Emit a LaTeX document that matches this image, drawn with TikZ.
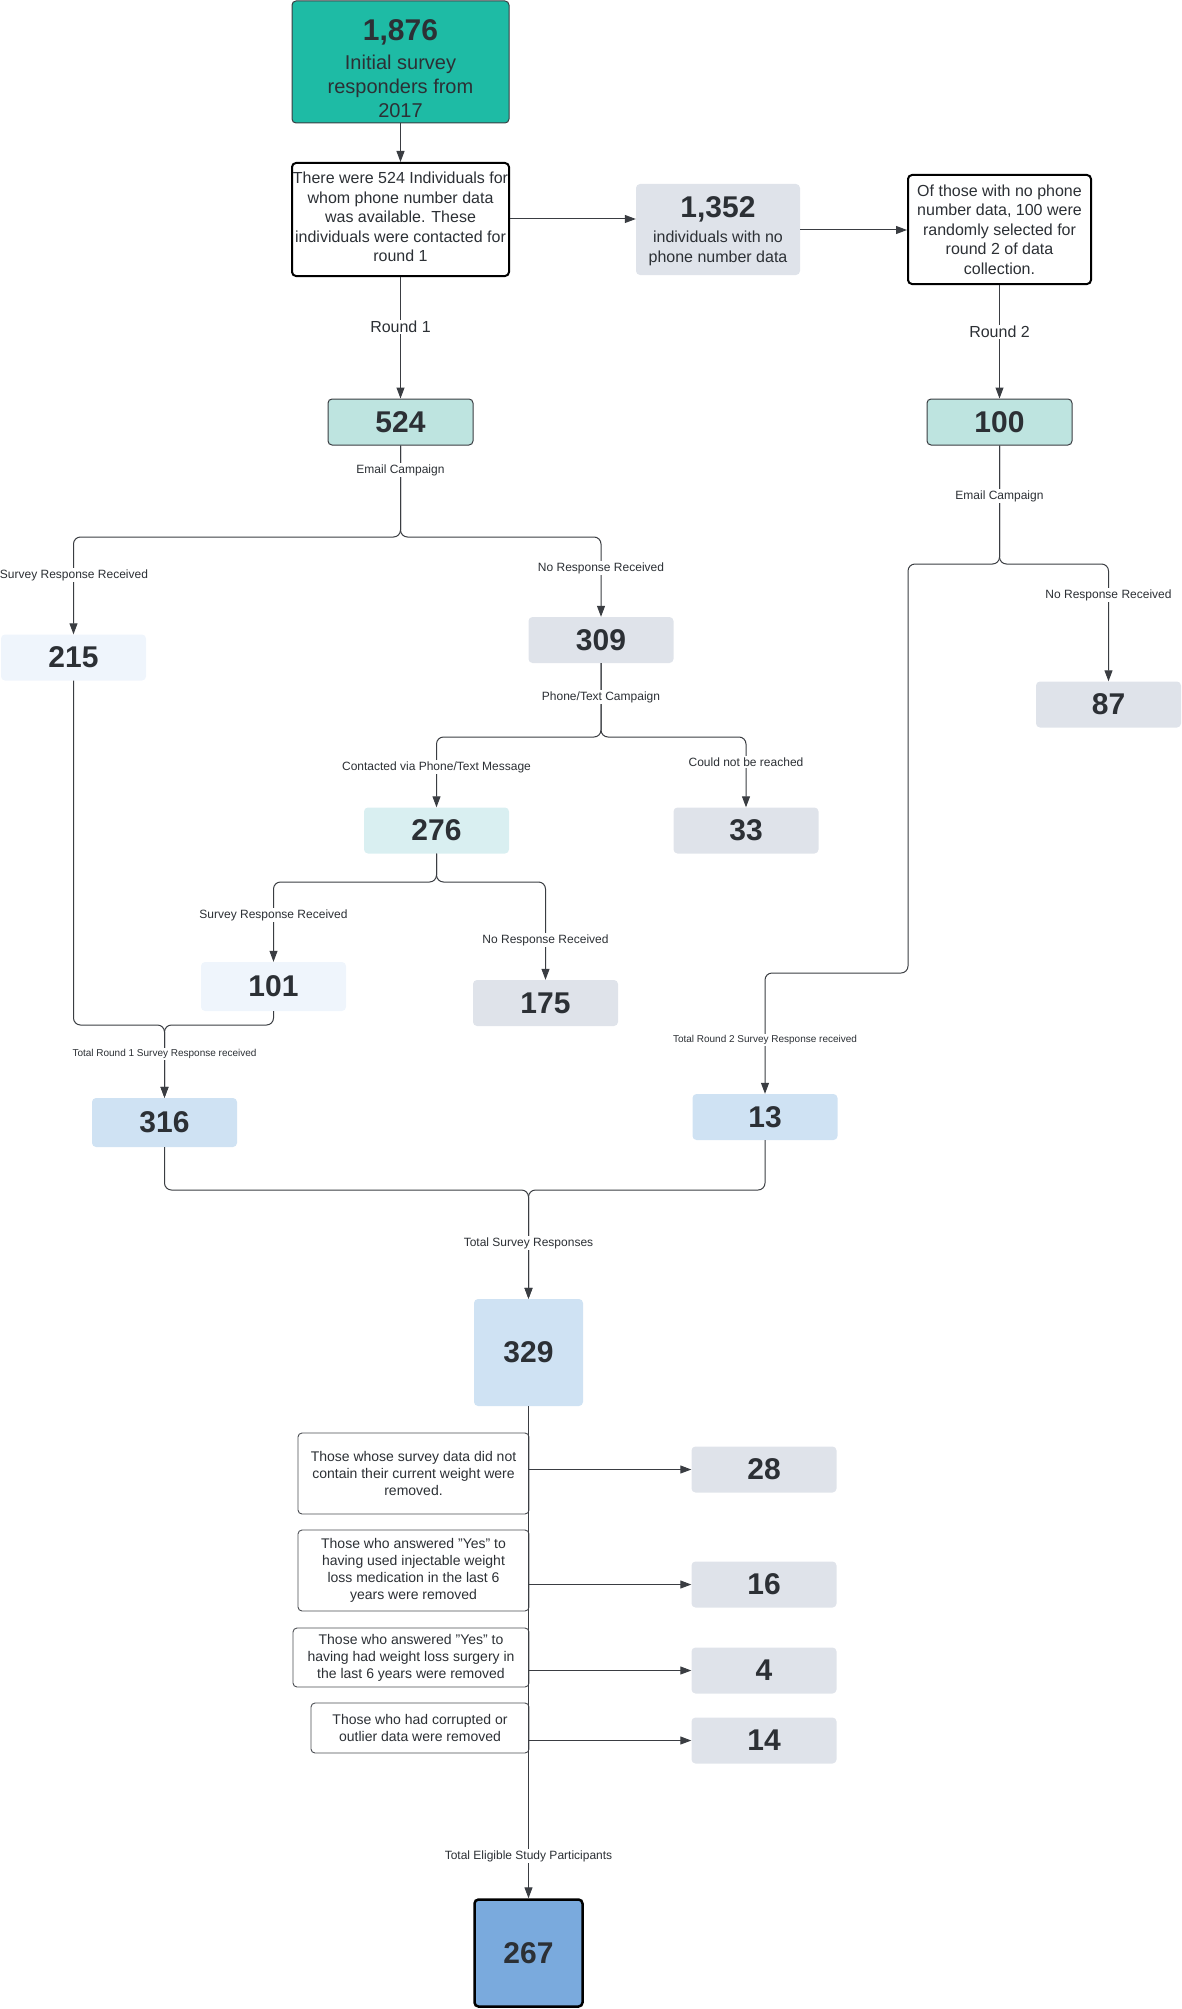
\documentclass[tikz,border=0pt]{standalone}
\usepackage{fontspec}
\setmainfont{Liberation Sans}
\usetikzlibrary{arrows.meta}
\definecolor{txt}{HTML}{2C3035}
\definecolor{lncol}{HTML}{3A3D42}
\definecolor{tealdark}{HTML}{1EBBA5}
\definecolor{teallight}{HTML}{BEE4E0}
\definecolor{tealpale}{HTML}{D9EFF1}
\definecolor{grayc}{HTML}{DFE3EA}
\definecolor{palec}{HTML}{EFF5FC}
\definecolor{bluec}{HTML}{CFE2F3}
\definecolor{bluedark}{HTML}{7AAADD}
\definecolor{bordgray}{HTML}{4A4D52}
\tikzset{
  ln/.style={draw=lncol, line width=1pt},
  arr/.style={ln, -{Triangle[length=11pt,width=8pt]}},
  rnd/.style={rounded corners=7pt},
  lbl/.style={fill=white, inner sep=1.5pt, text=txt, font=\fontsize{12}{15}\selectfont},
  lblS/.style={lbl, font=\fontsize{10}{13}\selectfont},
  lblL/.style={lbl, font=\fontsize{16}{19}\selectfont},
  base/.style={rectangle, rounded corners=4pt, inner sep=0pt, align=center, text=txt},
  numb/.style={base, font=\fontsize{30}{36}\selectfont\bfseries, minimum width=145pt, minimum height=46pt},
  graybox/.style={numb, fill=grayc},
  palebox/.style={numb, fill=palec},
  bluebox/.style={numb, fill=bluec},
  tealbox/.style={numb, fill=teallight, draw=lncol, line width=1pt},
  whitebox/.style={base, fill=white, draw=black, line width=2pt, font=\fontsize{16}{19.4}\selectfont},
  exclbox/.style={base, fill=white, draw=bordgray, line width=0.9pt, font=\fontsize{14}{17}\selectfont},
}
\begin{document}
\begin{tikzpicture}[x=1pt,y=-1pt]
\useasboundingbox (0,0) rectangle (1182,2009);
% top boxes
\node[base, fill=tealdark, draw=lncol, line width=1pt, minimum width=217pt, minimum height=122pt] (n1876) at (400.5,62) {};
\node[text=txt, font=\fontsize{30}{36}\selectfont\bfseries, inner sep=0pt] (t1876) at (400.5,32.5) {1,876};
\node[text=txt, align=center, font=\fontsize{20}{24}\selectfont, inner sep=0pt] (t1876b) at (400.5,86) {Initial survey\\responders from\\2017};
\node[whitebox, minimum width=217pt, minimum height=113pt] (nbox2) at (400.5,219.5) {};
\node[text=txt, align=center, font=\fontsize{16}{19.4}\selectfont, inner sep=0pt] (t2) at (400.5,217) {There were 524 Individuals for\\whom phone number data\\was available. These\\individuals were contacted for\\round 1};
\node[base, fill=grayc, minimum width=164pt, minimum height=91pt] (n1352) at (718,229.5) {};
\node[text=txt, font=\fontsize{30}{36}\selectfont\bfseries, inner sep=0pt] (t1352) at (718,209.5) {1,352};
\node[text=txt, align=center, font=\fontsize{16}{20}\selectfont, inner sep=0pt] (t1352b) at (718,248) {individuals with no\\phone number data};
\node[whitebox, minimum width=183pt, minimum height=109pt] (nof) at (999.5,229.5) {Of those with no phone\\number data, 100 were\\randomly selected for\\round 2 of data\\collection.};
% second level
\node[tealbox] (n524) at (400.5,422) {524};
\node[tealbox] (n100) at (999.5,422) {100};
\node[palebox] (n215) at (73.5,657.5) {215};
\node[graybox] (n309) at (601,640) {309};
\node[graybox] (n87) at (1108.5,704.5) {87};
\node[numb, fill=tealpale] (n276) at (436.5,830.5) {276};
\node[graybox] (n33) at (746,830.5) {33};
\node[palebox, minimum height=49pt] (n101) at (273.5,986.5) {101};
\node[graybox] (n175) at (545.5,1003) {175};
\node[bluebox, minimum height=49pt] (n316) at (164.5,1122.5) {316};
\node[bluebox] (n13) at (765,1117) {13};
\node[bluebox, minimum width=109pt, minimum height=107pt] (n329) at (528.5,1352.5) {329};
% exclusions
\node[exclbox, minimum width=231pt, minimum height=81pt] (bA) at (413.5,1473.5) {Those whose survey data did not\\contain their current weight were\\removed.};
\node[exclbox, minimum width=231pt, minimum height=81pt] (bB) at (413.5,1570.5) {Those who answered "Yes" to\\having used injectable weight\\loss medication in the last 6\\years were removed};
\node[exclbox, minimum width=236pt, minimum height=59pt] (bC) at (411,1657.5) {Those who answered "Yes" to\\having had weight loss surgery in\\the last 6 years were removed};
\node[exclbox, minimum width=218pt, minimum height=50pt] (bD) at (420,1728) {Those who had corrupted or\\outlier data were removed};
\node[graybox] (n28) at (764,1469.5) {28};
\node[graybox] (n16) at (764,1584.5) {16};
\node[graybox] (n4) at (764,1670.5) {4};
\node[graybox] (n14) at (764,1740.5) {14};
\node[base, fill=bluedark, draw=black, line width=2.5pt, minimum width=108pt, minimum height=107pt, font=\fontsize{30}{36}\selectfont\bfseries] (n267) at (528.5,1953) {267};
% connectors
\draw[arr] (n1876) -- (nbox2);
\draw[arr] (nbox2.east |- 0,219) -- (n1352.west |- 0,219);
\draw[arr] (n1352.east |- 0,230) -- (nof.west |- 0,230);
\draw[arr] (nbox2) -- (n524);
\draw[arr] (nof) -- (n100);
\draw[arr, rnd] (n524.south) -- (400.5,537) -- (73.5,537) -- (n215.north);
\draw[arr, rnd] (n524.south) -- (400.5,537) -- (601,537) -- (n309.north);
\draw[arr, rnd] (n309.south) -- (601,737) -- (436.5,737) -- (n276.north);
\draw[arr, rnd] (n309.south) -- (601,737) -- (746,737) -- (n33.north);
\draw[arr, rnd] (n276.south) -- (436.5,882) -- (273.5,882) -- (n101.north);
\draw[arr, rnd] (n276.south) -- (436.5,882) -- (545.5,882) -- (n175.north);
\draw[arr, rnd] (n215.south) -- (73.5,1025) -- (164.5,1025) -- (n316.north);
\draw[arr, rnd] (n101.south) -- (273.5,1025) -- (164.5,1025) -- (n316.north);
\draw[arr, rnd] (n100.south) -- (999.5,564) -- (1108.5,564) -- (n87.north);
\draw[arr, rnd] (n100.south) -- (999.5,564) -- (908,564) -- (908,973) -- (765,973) -- (n13.north);
\draw[arr, rnd] (n316.south) -- (164.5,1190) -- (528.5,1190) -- (n329.north);
\draw[arr, rnd] (n13.south) -- (765,1190) -- (528.5,1190) -- (n329.north);
\draw[arr] (n329) -- (n267);
\coordinate (tA) at (528.5,1469.5);
\coordinate (tB) at (528.5,1584.5);
\coordinate (tC) at (528.5,1670.5);
\coordinate (tD) at (528.5,1740.5);
\draw[arr] (tA) -- (n28);
\draw[arr] (tB) -- (n16);
\draw[arr] (tC) -- (n4);
\draw[arr] (tD) -- (n14);
% labels
\node[lblL] (lR1) at (400.5,327) {Round 1};
\node[lblL] (lR2) at (999.5,332) {Round 2};
\node[lbl] (lE1) at (400.5,470) {Email Campaign};
\node[lbl] (lS1) at (74,575) {Survey Response Received};
\node[lbl] (lN1) at (601,568) {No Response Received};
\node[lbl] (lP) at (601,697) {Phone/Text Campaign};
\node[lbl] (lC) at (436.5,767) {Contacted via Phone/Text Message};
\node[lbl] (lCn) at (746,762) {Could not be reached};
\node[lbl] (lS2) at (273.5,915) {Survey Response Received};
\node[lbl] (lN2) at (545.5,940) {No Response Received};
\node[lblS] (lT1) at (164.5,1054) {Total Round 1 Survey Response received};
\node[lbl] (lE2) at (999.5,496) {Email Campaign};
\node[lbl] (lN3) at (1108.5,595) {No Response Received};
\node[lblS] (lT2) at (765,1040) {Total Round 2 Survey Response received};
\node[lbl] (lTS) at (528.5,1243) {Total Survey Responses};
\node[lbl] (lTE) at (528.5,1856) {Total Eligible Study Participants};
\end{tikzpicture}
\end{document}
